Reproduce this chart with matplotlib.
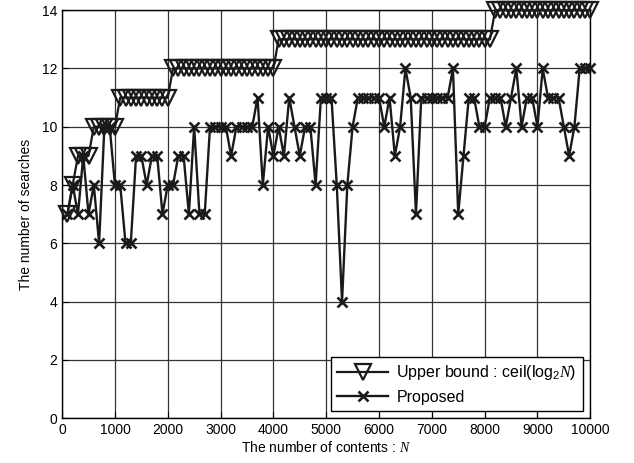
import matplotlib
matplotlib.use("Agg")
import matplotlib.pyplot as plt

plt.rcParams["font.family"] = ["Liberation Sans", "DejaVu Sans"]
plt.rcParams["mathtext.fontset"] = "custom"
plt.rcParams["mathtext.rm"] = "Liberation Sans"
plt.rcParams["mathtext.it"] = "Liberation Serif:italic"

# number of contents N = 100, 200, ..., 10000
contents = list(range(100, 10001, 100))

# upper bound ceil(log2 N)
upper_bound = (
    [7, 8, 9, 9, 9]
    + [10] * 5
    + [11] * 10
    + [12] * 20
    + [13] * 41
    + [14] * 19
)

# proposed scheme, number of searches
proposed = [
    7, 8, 7, 9, 7, 8, 6, 10, 10, 8,
    8, 6, 6, 9, 9, 8, 9, 9, 7, 8,
    8, 9, 9, 7, 10, 7, 7, 10, 10, 10,
    10, 9, 10, 10, 10, 10, 11, 8, 10, 9,
    10, 9, 11, 10, 9, 10, 10, 8, 11, 11,
    11, 8, 4, 8, 10, 11, 11, 11, 11, 11,
    10, 11, 9, 10, 12, 11, 7, 11, 11, 11,
    11, 11, 11, 12, 7, 9, 11, 11, 10, 10,
    11, 11, 11, 10, 11, 12, 10, 11, 11, 10,
    12, 11, 11, 11, 10, 9, 10, 12, 12, 12,
]

fig = plt.figure(figsize=(6.34, 4.63), dpi=100)
ax = fig.add_axes([0.098, 0.097, 0.833, 0.881])

ax.plot(contents, upper_bound, color="#1a1a1a", lw=1.6, marker="v",
        markersize=11, fillstyle="none", markeredgewidth=1.6,
        label=r"Upper bound : ceil(log$_2$$N$)", zorder=3, clip_on=False)
ax.plot(contents, proposed, color="#1a1a1a", lw=1.7, marker="x",
        markersize=7.5, markeredgewidth=1.9, label="Proposed", zorder=4,
        clip_on=False)

ax.set_xlim(0, 10000)
ax.set_ylim(0, 14)
ax.set_xticks(range(0, 10001, 1000))
ax.set_yticks(range(0, 15, 2))
ax.grid(True, color="#333333", lw=0.9)
ax.set_axisbelow(True)
ax.tick_params(direction="in", labelsize=10, length=4, color="black")
for s in ax.spines.values():
    s.set_linewidth(1.0)

ax.set_xlabel("The number of contents : $N$", fontsize=10, labelpad=2)
ax.set_ylabel("The number of searches", fontsize=10, labelpad=6)

leg = ax.legend(loc="lower right", fontsize=11.5, numpoints=1,
                handlelength=3.2, handletextpad=0.5, fancybox=False,
                framealpha=1, edgecolor="black", borderpad=0.4,
                labelspacing=0.45, borderaxespad=0.45)
leg.get_frame().set_linewidth(1.0)
leg.set_zorder(10)

fig.savefig("out.png", dpi=100)
